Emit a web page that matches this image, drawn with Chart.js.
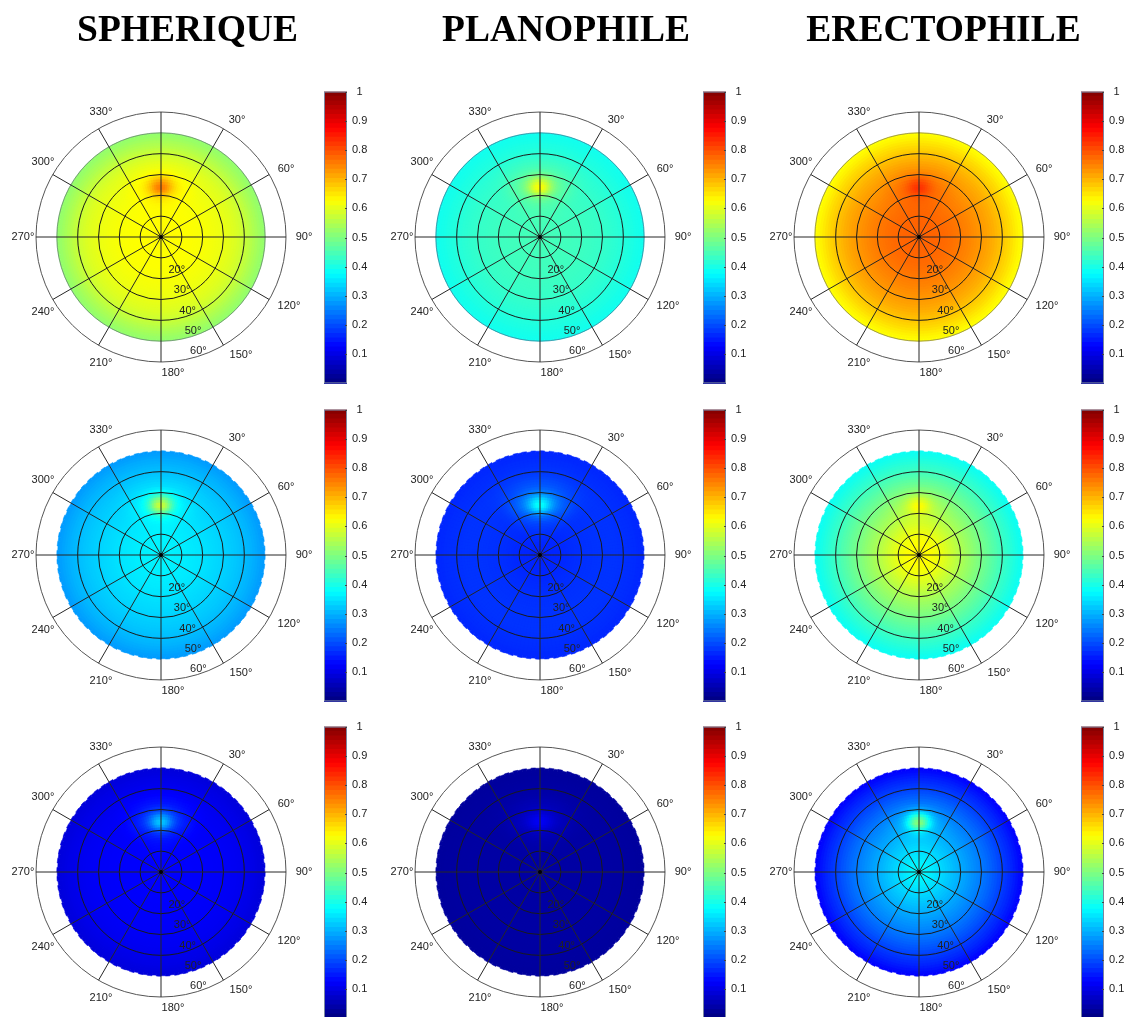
<!DOCTYPE html>
<html>
<head>
<meta charset="utf-8">
<title>Polar reflectance maps</title>
<script src="https://cdn.jsdelivr.net/npm/chart.js@4"></script>
<style>
html, body { margin: 0; padding: 0; background: #fff; overflow: hidden; width: 1130px; height: 1017px; }
#page { position: relative; width: 1130px; height: 1017px; overflow: hidden; filter: blur(0.4px); }
.title { position: absolute; top: 7px; width: 400px; text-align: center; font: bold 37.5px "Liberation Serif", serif; color: #000; }
.box { position: absolute; }
</style>
</head>
<body>
<div id="page"></div>
<script>
const columnTitles = ['SPHERIQUE', 'PLANOPHILE', 'ERECTOPHILE'];

// upper bound of each zenith ring (degrees)
const zenithEdges = [1.25, 2.5, 3.75, 5, 6.25, 7.5, 8.75, 10, 11.25, 12.5, 13.75, 15, 16.25, 17.5, 18.75, 20, 21.25, 22.5, 23.75, 25,
  26.25, 27.5, 28.75, 30, 31.25, 32.5, 33.75, 35, 36.25, 37.5, 38.75, 40, 41.25, 42.5, 43.75, 45, 46.25, 47.5, 48.75, 50];
const zenithTicks = [20, 30, 40, 50, 60];
const azimuthTicks = [30, 60, 90, 120, 150, 180, 210, 240, 270, 300, 330];
const colorbarTicks = [0.1, 0.2, 0.3, 0.4, 0.5, 0.6, 0.7, 0.8, 0.9, 1];

// reflectance per zenith ring
const sphereTop = [.628, .628, .627, .627, .626, .626, .625, .625, .624, .624, .623, .623, .622, .621, .620, .619, .618, .617, .615, .614,
  .612, .610, .608, .606, .603, .600, .597, .594, .590, .585, .580, .574, .568, .561, .553, .546, .539, .532, .525, .520];
const planoTop = [.444, .444, .443, .443, .442, .442, .441, .441, .440, .440, .439, .439, .438, .437, .437, .436, .435, .434, .433, .432,
  .431, .430, .429, .427, .426, .424, .422, .420, .418, .416, .413, .411, .408, .406, .403, .401, .398, .396, .394, .392];
const erectTop = [.778, .778, .777, .777, .776, .776, .775, .774, .772, .771, .769, .767, .765, .762, .759, .756, .753, .750, .747, .743,
  .739, .735, .731, .727, .722, .718, .713, .708, .703, .697, .691, .684, .677, .669, .662, .654, .646, .638, .631, .625];
const sphereMid = [.365, .365, .364, .364, .363, .362, .361, .360, .359, .358, .356, .355, .354, .352, .351, .349, .347, .345, .343, .341,
  .339, .337, .335, .332, .330, .328, .325, .323, .320, .317, .314, .311, .308, .304, .300, .296, .292, .287, .282, .277];
const planoMid = [.160, .160, .161, .161, .162, .162, .163, .163, .164, .165, .166, .167, .168, .169, .170, .171, .172, .172, .173, .173,
  .174, .174, .175, .175, .175, .175, .175, .175, .175, .174, .173, .172, .171, .170, .169, .168, .167, .165, .164, .162];
const erectMid = [.632, .630, .628, .625, .622, .618, .614, .609, .603, .596, .589, .581, .573, .565, .557, .550, .543, .535, .528, .521,
  .514, .507, .500, .493, .487, .480, .473, .466, .459, .452, .445, .438, .431, .424, .418, .411, .404, .398, .392, .387];
const sphereLow = [.125, .125, .125, .125, .124, .124, .124, .124, .123, .123, .123, .123, .122, .122, .122, .122, .121, .121, .120, .120,
  .119, .119, .118, .118, .117, .116, .115, .114, .113, .111, .110, .108, .106, .104, .102, .100, .098, .095, .093, .090];
const planoLow = [.036, .036, .036, .036, .036, .036, .036, .036, .036, .036, .036, .036, .036, .036, .036, .036, .036, .036, .036, .036,
  .036, .036, .036, .036, .035, .035, .035, .035, .034, .034, .034, .033, .033, .032, .032, .031, .031, .030, .030, .030];
const erectLow = [.378, .373, .368, .363, .358, .353, .348, .343, .338, .332, .326, .320, .314, .308, .302, .296, .290, .284, .278, .272,
  .266, .260, .254, .248, .241, .234, .227, .220, .212, .205, .197, .190, .182, .175, .167, .160, .151, .143, .134, .125];

// hot spot at azimuth 0: sharp core and wide halo, rows then columns
const corePeaks = [[.11, .13, .05], [.19, .12, .07], [.13, .04, .20]];
const haloPeaks = [[.03, .06, .03], [.04, .09, .03], [.07, .04, .03]];
const coreByRing = [0, 0, 0, 0, 0, 0, 0, 0, 0, 0, 0, 0, .02, .08, .14, .28, .55, .82, 1, .97,
  .82, .65, .4, .22, .11, .04, 0, 0, 0, 0, 0, 0, 0, 0, 0, 0, 0, 0, 0, 0];
const coreByBin = [1, .95, .82, .65, .47, .32, .2, .11, .05, .02];
const haloByRing = [0, 0, 0, 0, .03, .06, .08, .1, .13, .16, .2, .26, .33, .42, .5, .6, .72, .85, .93, 1,
  .98, .92, .82, .72, .6, .5, .42, .34, .27, .2, .15, .11, .08, .05, .03, .02, .01, 0, 0, 0];
const haloByBin = [1, .99, .97, .94, .9, .85, .79, .72, .65, .57, .49, .41, .33, .26, .19, .13, .08, .04, .02];

// rough outer edge of the lower two rows, repeated around the disc
const edgeNotches = [50, 49.6, 50, 49.8];

const rows = [
  [sphereTop, planoTop, erectTop],
  [sphereMid, planoMid, erectMid],
  [sphereLow, planoLow, erectLow]
];

const centersX = [161, 540, 919];
const centersY = [237, 555, 872];
const colorbarLeft = [324, 703, 1081];
const colorbarTop = [90, 408, 725];

// label centres relative to the disc centre, plain layout
const azimuthLabelPos = {
  30: [76, -117], 60: [125, -68], 90: [143, 0], 120: [128, 69], 150: [80, 118], 180: [12, 136],
  210: [-60, 126], 240: [-118, 75], 270: [-138, 0], 300: [-118, -75], 330: [-60, -125]
};

const binCount = 144;
const colorLevels = 64;

function jet(v) {
  const r = Math.min(1, Math.max(0, Math.min(4 * v - 1.5, -4 * v + 4.5)));
  const g = Math.min(1, Math.max(0, Math.min(4 * v - 0.5, -4 * v + 3.5)));
  const b = Math.min(1, Math.max(0, Math.min(4 * v + 0.5, -4 * v + 2.5)));
  return 'rgb(' + Math.round(r * 255) + ',' + Math.round(g * 255) + ',' + Math.round(b * 255) + ')';
}

function byBin(list, bin) {
  const k = bin < binCount / 2 ? bin : binCount - 1 - bin;
  return k < list.length ? list[k] : 0;
}

const polarLabels = {
  id: 'polarLabels',
  afterDraw(chart) {
    const c = chart.ctx, s = chart.scales.r;
    c.save();
    c.fillStyle = '#000';
    c.beginPath();
    c.arc(s.xCenter, s.yCenter, 2, 0, Math.PI * 2);
    c.fill();
    c.font = '11px "Liberation Sans", Arial, sans-serif';
    c.fillStyle = '#222';
    c.textAlign = 'center';
    c.textBaseline = 'middle';
    azimuthTicks.forEach(a => {
      const p = azimuthLabelPos[a];
      c.fillText(a + '°', s.xCenter + p[0], s.yCenter + p[1]);
    });
    zenithTicks.forEach(z => {
      const d = s.getDistanceFromCenterForValue(z);
      c.fillText(z + '°', s.xCenter + d * 0.259 + 5, s.yCenter + d * 0.966 - 7);
    });
    c.restore();
  }
};

const barOutline = {
  id: 'barOutline',
  afterDraw(chart) {
    const c = chart.ctx, a = chart.chartArea, y = chart.scales.y;
    c.save();
    c.strokeStyle = '#7a86a0';
    c.lineWidth = 1;
    c.strokeRect(a.left + .5, a.top + .5, a.right - a.left - 1, a.bottom - a.top - 1);
    c.strokeStyle = '#444';
    colorbarTicks.forEach(t => {
      const py = Math.round(y.getPixelForValue(t)) + .5;
      c.beginPath();
      c.moveTo(a.right - 2, py);
      c.lineTo(a.right, py);
      c.stroke();
    });
    c.restore();
  }
};

function addCanvas(left, top, w, h) {
  const box = document.createElement('div');
  box.className = 'box';
  box.style.cssText = 'left:' + left + 'px;top:' + top + 'px;width:' + w + 'px;height:' + h + 'px';
  const cv = document.createElement('canvas');
  box.appendChild(cv);
  document.getElementById('page').appendChild(box);
  return cv;
}

function drawPolar(cx, cy, profile, corePeak, haloPeak, rough) {
  const cv = addCanvas(cx - 160, cy - 160, 320, 320);
  const azLabels = [];
  for (let i = 0; i < binCount; i++) azLabels.push(i * 2.5);
  const datasets = zenithEdges.map((edge, ring) => {
    const colors = [];
    for (let b = 0; b < binCount; b++) {
      colors.push(jet(profile[ring] + corePeak * coreByRing[ring] * byBin(coreByBin, b) + haloPeak * haloByRing[ring] * byBin(haloByBin, b)));
    }
    const lastRing = ring === zenithEdges.length - 1;
    return {
      data: azLabels.map((a, b) => (lastRing && rough ? edgeNotches[b % edgeNotches.length] : edge)),
      backgroundColor: colors,
      borderColor: colors,
      borderWidth: 0.6
    };
  });
  new Chart(cv, {
    type: 'polarArea',
    data: { labels: azLabels, datasets: datasets },
    options: {
      responsive: true,
      maintainAspectRatio: false,
      animation: false,
      events: [],
      layout: { padding: 35 },
      plugins: { legend: { display: false }, tooltip: { enabled: false } },
      scales: {
        r: {
          min: 0,
          max: 60,
          ticks: { stepSize: 10, display: false },
          grid: {
            circular: true,
            z: 1,
            color: ctx => (ctx.tick.value === 60 ? '#555' : ctx.tick.value === 50 ? 'rgba(70,60,110,.5)' : '#1a1a1a'),
            lineWidth: ctx => (ctx.tick.value === 50 && rough ? 0 : 1)
          },
          angleLines: {
            display: true,
            color: '#262626',
            lineWidth: ctx => (ctx.index % 12 === 0 ? 1 : 0)
          },
          pointLabels: { display: false }
        }
      }
    },
    plugins: [polarLabels]
  });
}

function drawColorbar(left, top) {
  const cv = addCanvas(left, top - 10, 60, 315);
  const datasets = [];
  for (let i = 0; i < colorLevels; i++) {
    const col = jet((i + .5) / colorLevels);
    datasets.push({ data: [(i + 1) / colorLevels], backgroundColor: col, borderWidth: 0 });
  }
  new Chart(cv, {
    type: 'bar',
    data: { labels: [''], datasets: datasets },
    options: {
      responsive: true,
      maintainAspectRatio: false,
      animation: false,
      events: [],
      layout: { padding: { top: 10, bottom: 10, left: 0, right: 0 } },
      plugins: { legend: { display: false }, tooltip: { enabled: false } },
      datasets: { bar: { barPercentage: 1, categoryPercentage: 1, grouped: false } },
      scales: {
        x: { display: false },
        y: {
          position: 'right',
          min: 0,
          max: 1,
          afterFit: s => { s.width = 37; },
          afterBuildTicks: s => { s.ticks = colorbarTicks.map(v => ({ value: v })); },
          grid: { display: false, drawTicks: false, tickLength: 0 },
          border: { display: false },
          ticks: {
            padding: 5,
            crossAlign: 'center',
            color: '#222',
            font: { family: '"Liberation Sans", Arial, sans-serif', size: 11 },
            callback: v => String(v)
          }
        }
      }
    },
    plugins: [barOutline]
  });
}

columnTitles.forEach((t, i) => {
  const d = document.createElement('div');
  d.className = 'title';
  d.textContent = t;
  d.style.left = ([187.5, 566, 943.5][i] - 200) + 'px';
  document.getElementById('page').appendChild(d);
});

rows.forEach((row, r) => {
  row.forEach((profile, c) => {
    drawPolar(centersX[c], centersY[r], profile, corePeaks[r][c], haloPeaks[r][c], r > 0);
    drawColorbar(colorbarLeft[c], colorbarTop[r]);
  });
});
</script>
</body>
</html>
